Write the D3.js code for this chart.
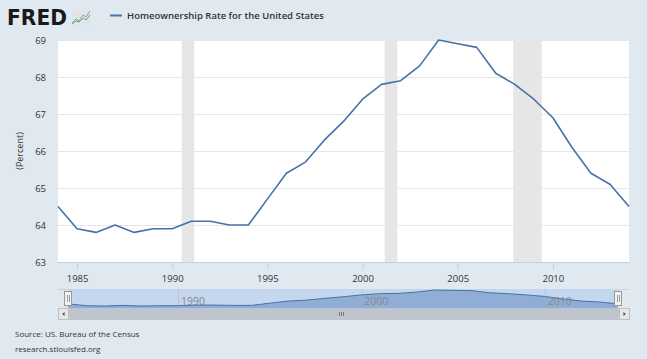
<!DOCTYPE html>
<html><head><meta charset="utf-8">
<script src="https://cdn.jsdelivr.net/npm/d3@7"></script>
<style>
html,body{margin:0;padding:0;background:#e1e9f0;}
svg{display:block;font-family:"Open Sans",sans-serif;}
</style></head><body>
<svg id="c" width="647" height="359"></svg>
<script>
const years = [1984,1985,1986,1987,1988,1989,1990,1991,1992,1993,1994,1995,1996,1997,1998,1999,2000,2001,2002,2003,2004,2005,2006,2007,2008,2009,2010,2011,2012,2013,2014];
const rates = [64.5,63.9,63.8,64.0,63.8,63.9,63.9,64.1,64.1,64.0,64.0,64.7,65.4,65.7,66.3,66.8,67.4,67.8,67.9,68.3,69.0,68.9,68.8,68.1,67.8,67.4,66.9,66.1,65.4,65.1,64.5];
const recessionStarts = ["1990-07-01","2001-03-01","2007-12-01"];
const recessionEnds = ["1991-03-01","2001-11-01","2009-06-01"];
const yTicks = [63,64,65,66,67,68,69];
const xTickYears = [1985,1990,1995,2000,2005,2010];
const navTickYears = [1990,2000,2010];
const seriesTitle = "Homeownership Rate for the United States";
const yLabel = "(Percent)";
const sourceLines = ["Source: US. Bureau of the Census","research.stlouisfed.org"];

const data = years.map((y,i)=>({d:new Date(y,0,1), v:rates[i]}));
const svg = d3.select("#c");
const blue = "#4572a7";

// plot area
const L=58, R=629, T=40, B=262;
const x = d3.scaleTime().domain([new Date(1984,0,1), new Date(2014,0,1)]).range([L,R]);
const y = d3.scaleLinear().domain([63,69]).range([B,T]);

svg.append("rect").attr("x",L).attr("y",T).attr("width",R-L).attr("height",B-T).attr("fill","#fff");

// recessions
const parse = d3.timeParse("%Y-%m-%d");
svg.append("g").selectAll("rect").data(recessionStarts.map((s,i)=>[parse(s),parse(recessionEnds[i])]))
  .join("rect").attr("x",d=>x(d[0])).attr("width",d=>x(d[1])-x(d[0]))
  .attr("y",T).attr("height",B-T).attr("fill","#e6e6e6");

// grid
const yAxis = d3.axisLeft(y).tickValues(yTicks).tickSize(-(R-L)).tickFormat(d3.format("d"));
const gy = svg.append("g").attr("transform",`translate(${L},0)`).call(yAxis);
gy.select(".domain").remove();
gy.selectAll(".tick line").attr("stroke","#e6e6e6").attr("stroke-width",1);
gy.selectAll(".tick text").attr("x",-12).attr("fill","#333").style("font-size","9.5px").style("font-family","Open Sans");

// x axis
const xAxis = d3.axisBottom(x).tickValues(xTickYears.map(v=>new Date(v,0,1))).tickSize(8).tickFormat(d3.timeFormat("%Y"));
const gx = svg.append("g").attr("transform",`translate(0,${B})`).call(xAxis);
gx.select(".domain").attr("stroke","#c0d0e0").attr("d",`M${L},0.5H${R}`);
gx.selectAll(".tick line").attr("stroke","#c0d0e0");
gx.selectAll(".tick text").attr("y",13).attr("fill","#333").style("font-size","9.5px").style("font-family","Open Sans");

// line
svg.append("path").datum(data).attr("fill","none").attr("stroke",blue).attr("stroke-width",1.6)
  .attr("stroke-linejoin","round")
  .attr("d",d3.line().x(d=>x(d.d)).y(d=>y(d.v)));

// y label
svg.append("text").attr("transform","translate(23,151) rotate(-90)").attr("text-anchor","middle")
  .attr("fill","#333").style("font-size","9px").text(yLabel);

// header: FRED logo
svg.append("text").attr("x",7).attr("y",25).attr("fill","#1a1a1a")
  .style("font-family","DejaVu Sans").style("font-weight","900").style("font-size","21px")
  .attr("textLength",60).attr("lengthAdjust","spacingAndGlyphs").text("FRED");
const logo = svg.append("g");
logo.append("rect").attr("x",72).attr("y",10).attr("width",18).attr("height",15).attr("fill","#dfe5ea");
logo.append("polyline").attr("points","72,23 76,19 79,21 83,15 86,17 90,11").attr("fill","none").attr("stroke","#7fa0c8").attr("stroke-width",1);
logo.append("polyline").attr("points","72,24 76,21 79,22 83,18 86,20 90,15").attr("fill","none").attr("stroke","#6aa84f").attr("stroke-width",1);

// legend
svg.append("line").attr("x1",110).attr("x2",122).attr("y1",15.5).attr("y2",15.5).attr("stroke",blue).attr("stroke-width",2);
svg.append("text").attr("x",127).attr("y",19).attr("fill","#333").style("font-size","9.5px").style("font-weight","600")
  .text(seriesTitle);

// navigator
const NT=289, NB=308, NL=68, NR=618;
const nx = d3.scaleTime().domain(x.domain()).range([NL,NR]);
const ny = d3.scaleLinear().domain(d3.extent(rates)).range([NB-2,NT+1]);
svg.append("line").attr("x1",L).attr("x2",R).attr("y1",NT+0.5).attr("y2",NT+0.5).attr("stroke","#c8d0d8");
svg.append("rect").attr("x",NL).attr("y",NT).attr("width",NR-NL).attr("height",NB-NT).attr("fill","#c5d7ee");
svg.append("g").selectAll("line").data(navTickYears).join("line")
  .attr("x1",d=>nx(new Date(d,0,1))+0.5).attr("x2",d=>nx(new Date(d,0,1))+0.5)
  .attr("y1",NT).attr("y2",NB).attr("stroke","#b4c6de").attr("stroke-width",1);
svg.append("path").datum(data).attr("fill","#8aa9d3").attr("fill-opacity",0.9)
  .attr("d",d3.area().x(d=>nx(d.d)).y0(NB).y1(d=>ny(d.v)));
svg.append("path").datum(data).attr("fill","none").attr("stroke",blue).attr("stroke-width",1)
  .attr("d",d3.line().x(d=>nx(d.d)).y(d=>ny(d.v)));
svg.append("g").selectAll("text").data(navTickYears).join("text")
  .attr("x",d=>nx(new Date(d,0,1))+3).attr("y",305).attr("fill","#888").style("font-size","10.5px")
  .text(d=>d);
// handles
[NL,NR].forEach(hx=>{
  svg.append("rect").attr("x",hx-3.5).attr("y",291.5).attr("width",7).attr("height",14).attr("fill","#f2f2f2").attr("stroke","#999");
  svg.append("line").attr("x1",hx-0.5).attr("x2",hx-0.5).attr("y1",295).attr("y2",302).attr("stroke","#999");
  svg.append("line").attr("x1",hx+1.5).attr("x2",hx+1.5).attr("y1",295).attr("y2",302).attr("stroke","#999");
});

// scrollbar
svg.append("rect").attr("x",L).attr("y",308).attr("width",R-L).attr("height",12).attr("fill","#bfc5cc");
[[L,"left"],[R-10,"right"]].forEach(([bx,dir])=>{
  svg.append("rect").attr("x",bx+0.5).attr("y",308.5).attr("width",10).attr("height",11).attr("fill","#e6e6e6").attr("stroke","#c0c0c0");
  const cx=bx+5.5, cy=314;
  const pts = dir==="left" ? `${cx+1},${cy-2} ${cx+1},${cy+2} ${cx-1},${cy}` : `${cx-1},${cy-2} ${cx-1},${cy+2} ${cx+1},${cy}`;
  svg.append("polygon").attr("points",pts).attr("fill","#333");
});
[-2,0,2].forEach(o=>{
  svg.append("line").attr("x1",341.5+o).attr("x2",341.5+o).attr("y1",312).attr("y2",316).attr("stroke","#666").attr("stroke-width",0.8);
});

// source
svg.selectAll(".src").data(sourceLines).join("text").attr("class","src")
  .attr("x",15).attr("y",(d,i)=>337+i*15).attr("fill","#333").style("font-size","8px").text(d=>d);
</script>
</body></html>
